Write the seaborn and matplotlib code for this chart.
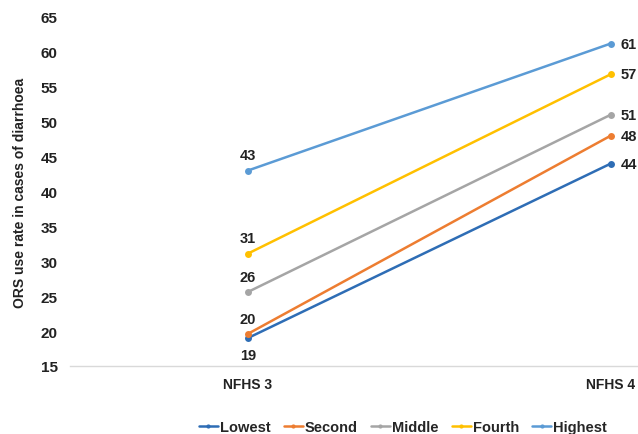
import matplotlib
matplotlib.use("Agg")
import matplotlib.pyplot as plt
import seaborn as sns
import pandas as pd

surveys = ["NFHS 3", "NFHS 4"]
groups = ["Lowest", "Second", "Middle", "Fourth", "Highest"]
nfhs3 = [19.0, 19.6, 25.6, 31.1, 43.0]
nfhs4 = [44.0, 48.0, 51.0, 56.8, 61.2]
colors = ["#2E6DB5", "#ED7D31", "#A5A5A5", "#FFC000", "#5B9BD5"]
yticks = [15, 20, 25, 30, 35, 40, 45, 50, 55, 60, 65]

rows = []
for g, a, b in zip(groups, nfhs3, nfhs4):
    rows.append({"Survey": surveys[0], "x": 0, "Group": g, "Value": a})
    rows.append({"Survey": surveys[1], "x": 1, "Group": g, "Value": b})
df = pd.DataFrame(rows)

sns.set_style("white")
plt.rcParams["font.family"] = ["Liberation Sans", "DejaVu Sans"]

fig = plt.figure(figsize=(6.38, 4.35), dpi=100)
ax = fig.add_axes([70/638, 1-367/435, (638-70)/638, (367-18)/435])

sns.lineplot(data=df, x="x", y="Value", hue="Group", hue_order=groups,
             palette=colors, marker="o", markersize=5, markeredgewidth=0,
             linewidth=1.8, ax=ax, legend=True)

for g, a, b in zip(groups, nfhs3, nfhs4):
    if g == "Lowest":
        ax.annotate(f"{round(a)}", (0, a), xytext=(0, -7), textcoords="offset points",
                    ha="center", va="top", fontsize=10.5, fontweight="bold", color="#222222")
    else:
        ax.annotate(f"{round(a)}", (0, a), xytext=(0, 6), textcoords="offset points",
                    ha="center", va="bottom", fontsize=10.5, fontweight="bold", color="#222222")
    ax.annotate(f"{round(b)}", (1, b), xytext=(7, 0), textcoords="offset points",
                ha="left", va="center", fontsize=10.5, fontweight="bold", color="#222222")

ax.set_xlim(-0.49, 1.075)
ax.set_ylim(15, 65)
ax.set_yticks(yticks)
ax.set_xticks([0, 1])
ax.set_xticklabels(surveys)
for lbl in ax.get_xticklabels():
    lbl.set_fontweight("bold")
    lbl.set_fontsize(10)
    lbl.set_color("#222222")
for lbl in ax.get_yticklabels():
    lbl.set_fontweight("bold")
    lbl.set_fontsize(11)
    lbl.set_color("#222222")
ax.tick_params(axis="both", length=0)
ax.tick_params(axis="x", pad=8)
ax.tick_params(axis="y", pad=9)
ax.set_xlabel("")
ax.set_ylabel("ORS use rate in cases of diarrhoea", fontsize=10, fontweight="bold",
              color="#222222", labelpad=10)
for s in ["top", "right", "left"]:
    ax.spines[s].set_visible(False)
ax.spines["bottom"].set_color("#D9D9D9")
ax.spines["bottom"].set_linewidth(1)

handles, labels = ax.get_legend_handles_labels()
leg = ax.legend(handles, labels, loc="center", bbox_to_anchor=(403/638, 1-428/435),
                bbox_transform=fig.transFigure, ncol=5, frameon=False,
                handlelength=1.3, handletextpad=0.15, columnspacing=0.9,
                borderpad=0, prop={"weight": "bold", "size": 10.5})
for line in leg.get_lines():
    line.set_markersize(3)

fig.savefig("out.png", dpi=100)
